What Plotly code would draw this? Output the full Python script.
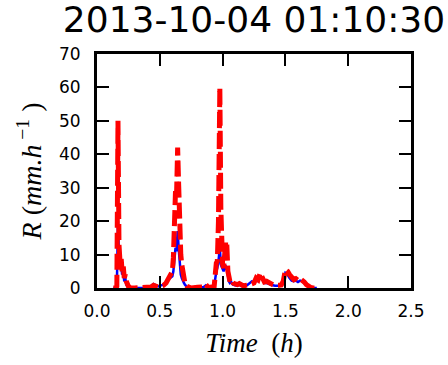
import plotly.graph_objects as go

# Rain-rate time series (hours since start, mm/h)
time_h = [
    0.13, 0.15, 0.158, 0.167, 0.175, 0.183, 0.192, 0.2, 0.208, 0.217, 0.225, 0.233, 0.25, 0.267,
    0.3, 0.35, 0.4, 0.43, 0.45, 0.47, 0.49, 0.51, 0.53,
    0.55, 0.567, 0.583, 0.6, 0.608, 0.617, 0.625, 0.633, 0.642, 0.65, 0.658, 0.667, 0.675, 0.683,
    0.692, 0.7, 0.717, 0.733, 0.75,
    0.8, 0.85, 0.867, 0.883, 0.9, 0.933,
    0.95, 0.958, 0.967, 0.978, 0.986, 0.994, 1.0, 1.008, 1.017, 1.025, 1.033, 1.042, 1.05, 1.058,
    1.067, 1.075, 1.083, 1.1, 1.117, 1.133, 1.15, 1.167, 1.183,
    1.2, 1.217, 1.233, 1.25, 1.267, 1.283, 1.3, 1.317, 1.333, 1.35, 1.367, 1.383, 1.4, 1.417,
    1.433, 1.45, 1.467, 1.483, 1.5, 1.517, 1.533, 1.55, 1.567, 1.583, 1.6, 1.617, 1.633, 1.65,
    1.667, 1.683, 1.7, 1.717, 1.75,
]

rate_red = [
    0, 0, 0.5, 50, 13, 8, 9, 5, 7, 3, 4, 2, 0.5, 0,
    0, 0, 0, 0.3, 0.8, 0.5, 0.3, 0.6, 0.8,
    1.5, 3, 4, 5, 9, 18, 29, 27, 42, 31, 18, 10, 7, 5,
    3, 1.5, 0.5, 0.2, 0,
    0.2, 0.3, 1, 0.3, 0.2, 0.5,
    7.5, 8, 20, 60, 24, 8, 7, 6, 9, 14, 13.5, 5, 3, 2,
    2.5, 2, 1.5, 1.2, 1, 1.3, 0.8, 0.6, 0.8,
    0.8, 1, 1.2, 1.5, 3, 2.5, 4.5, 3, 1.8, 2, 1.5, 1.2, 1, 0.8,
    0.7, 0.8, 0.9, 2, 5.5, 5, 4, 3, 2.5, 2.8, 2.3, 2.8, 2.5, 1.8,
    1, 0.5, 0.2, 0, 0,
]

rate_blue = [
    0, 0, 0.3, 20, 9, 6, 7, 4, 5, 2, 3, 1, 0.3, 0,
    0, 0, 0, 0.6, 1.2, 0.8, 0.5, 0.8, 1.0,
    1.2, 2.5, 3, 3.5, 5, 8, 12, 11, 17, 12, 7, 4, 3, 2,
    1.5, 1, 0.3, 0.1, 0,
    0.1, 0.3, 0.8, 0.3, 0.2, 0.6,
    5, 6, 8, 12, 7, 6, 5.5, 5, 6, 6.5, 6, 3, 2, 1.5,
    1.8, 1.5, 1, 0.8, 0.7, 1, 0.6, 0.5, 0.6,
    1, 1.5, 2, 1.8, 2.5, 2, 3.5, 2.5, 1.5, 1.5, 1.2, 1, 0.8, 0.7,
    0.6, 0.7, 0.8, 1.8, 4.5, 4, 3, 2.2, 2, 2.2, 1.8, 2.2, 2, 1.5,
    0.8, 0.4, 0.2, 0, 0,
]

x_ticks = [0.0, 0.5, 1.0, 1.5, 2.0, 2.5]
y_ticks = [0, 10, 20, 30, 40, 50, 60, 70]

fig = go.Figure()
fig.add_trace(go.Scatter(
    x=time_h, y=rate_blue, mode="lines",
    line=dict(color="#0000ff", width=2.5),
    showlegend=False,
))
fig.add_trace(go.Scatter(
    x=time_h, y=rate_red, mode="lines",
    line=dict(color="#ff0000", width=5, dash="16px,5px"),
    showlegend=False,
))

axis_common = dict(
    showgrid=False, zeroline=False,
    showline=True, linecolor="black", linewidth=3, mirror="ticks",
    ticks="inside", ticklen=12, tickwidth=2, tickcolor="black",
    tickfont=dict(family="DejaVu Sans", size=17, color="black"),
)

label_font = dict(family="Liberation Serif", size=27, color="black")

fig.update_xaxes(
    range=[0, 2.5], tickvals=x_ticks, ticktext=[f"{v:.1f}" for v in x_ticks],
    ticklabelstandoff=6,
    title=dict(text="<i>Time</i>&nbsp; (<i>h</i>)", standoff=13, font=label_font),
    **axis_common,
)
fig.update_yaxes(
    range=[0, 70], tickvals=y_ticks, ticktext=[str(v) for v in y_ticks],
    ticklabelstandoff=10,
    title=dict(text="<i>R</i>&nbsp;(<i>mm.h</i><sup>&nbsp;−1</sup>&nbsp;)", standoff=10,
               font=dict(family="Liberation Serif", size=28, color="black")),
    **axis_common,
)

fig.update_layout(
    width=448, height=365,
    margin=dict(l=97, r=37, t=54, b=77),
    paper_bgcolor="white", plot_bgcolor="white",
    title=dict(
        text="2013-10-04 01:10:30",
        font=dict(family="DejaVu Sans", size=36, color="black"),
        x=0.5, xanchor="center", xref="paper",
        y=0.982, yanchor="top", yref="container",
    ),
)

fig.write_html("out.html")
